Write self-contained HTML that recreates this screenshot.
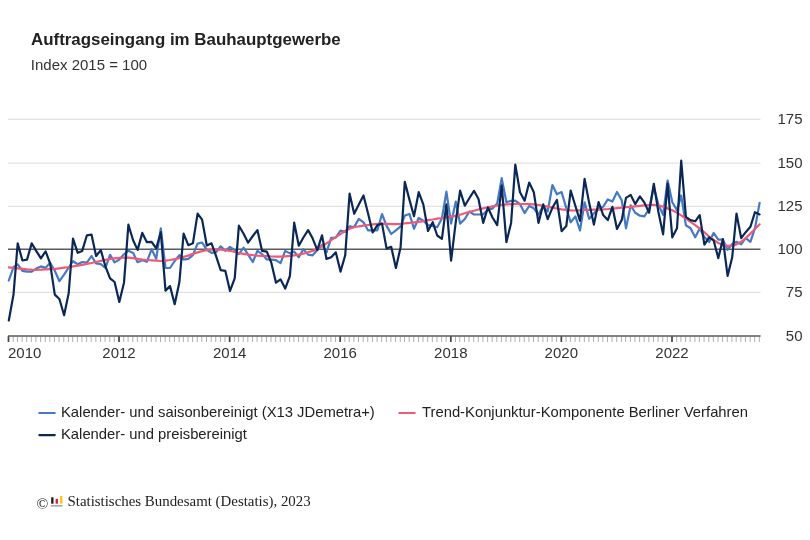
<!DOCTYPE html>
<html><head><meta charset="utf-8"><title>Auftragseingang im Bauhauptgewerbe</title>
<style>
html,body{margin:0;padding:0;background:#fff;}
body{width:810px;height:540px;overflow:hidden;position:relative;font-family:"Liberation Sans",sans-serif;}
svg{position:absolute;left:0;top:0;}
svg text{font-family:"Liberation Sans",sans-serif;}
svg{will-change:transform;transform:translateZ(0);}
.ttl{font-size:16.9px;font-weight:bold;fill:#222;}
.sub{font-size:15px;fill:#333;}
.ax text{font-size:15px;fill:#333;}
.lg text{font-size:14.8px;fill:#222;}
.ft{font-family:"Liberation Serif",serif;font-size:14.9px;fill:#222;}
</style></head><body>
<svg width="810" height="540" viewBox="0 0 810 540">
<text class="ttl" x="31" y="44.8">Auftragseingang im Bauhauptgewerbe</text>
<text class="sub" x="30.8" y="69.5">Index 2015 = 100</text>
<g fill="none">
<path d="M8 119.4 H760.5" stroke="#e2e2e2" stroke-width="1.2"/>
<path d="M8 163.2 H760.5" stroke="#e2e2e2" stroke-width="1.2"/>
<path d="M8 206.4 H760.5" stroke="#e2e2e2" stroke-width="1.2"/>
<path d="M8 292.3 H760.5" stroke="#e2e2e2" stroke-width="1.2"/>
<path d="M8 249.3 H760.5" stroke="#5a5a5a" stroke-width="1.5"/>
</g>
<g fill="none" stroke-linejoin="round" stroke-linecap="round">
<path d="M8.8 280.5 L13.5 267.2 L17.7 264.3 L22.4 270.9 L27.0 271.6 L31.7 271.6 L36.2 268.6 L40.9 266.4 L45.6 267.9 L50.1 262.7 L54.8 270.8 L59.4 281.2 L64.1 274.6 L68.7 267.5 L73.0 261.2 L77.7 264.2 L82.2 262.0 L86.9 262.7 L91.5 256.0 L96.1 263.4 L100.8 264.2 L105.4 267.9 L110.1 254.8 L114.6 262.4 L119.3 259.6 L124.0 254.3 L128.4 250.7 L133.1 252.9 L137.6 262.2 L142.3 260.3 L146.9 261.8 L151.6 249.2 L156.2 258.8 L160.8 228.4 L165.5 267.8 L170.0 268.0 L174.7 261.0 L179.4 255.1 L183.6 259.6 L188.3 258.8 L192.9 255.1 L197.6 243.6 L202.1 242.5 L206.8 249.9 L211.5 252.9 L216.0 252.2 L220.7 246.3 L225.3 250.8 L230.0 246.9 L234.7 250.1 L238.9 254.1 L243.6 247.6 L248.1 254.6 L252.8 262.0 L257.4 250.9 L262.1 254.1 L266.8 259.5 L271.3 259.7 L276.0 260.1 L280.5 263.2 L285.2 250.9 L289.9 253.4 L294.2 251.6 L298.8 257.2 L303.4 249.1 L308.1 254.6 L312.6 255.3 L317.3 250.1 L322.0 244.9 L326.5 252.3 L331.2 237.9 L335.8 237.6 L340.5 230.6 L345.2 231.8 L349.6 226.3 L354.2 227.0 L358.8 218.9 L363.5 222.4 L368.0 230.3 L372.7 230.3 L377.4 230.3 L382.0 214.0 L386.6 225.9 L391.2 234.0 L395.9 230.3 L400.6 226.3 L404.8 215.5 L409.5 214.0 L414.0 228.8 L418.7 218.0 L423.3 220.7 L428.0 225.1 L432.7 225.9 L437.2 227.3 L441.9 218.5 L446.4 191.6 L451.1 223.6 L455.8 201.6 L460.1 223.6 L464.8 219.0 L469.3 211.6 L474.0 214.5 L478.5 214.5 L483.2 214.3 L487.9 209.7 L492.5 208.6 L497.2 203.4 L501.7 178.1 L506.4 202.3 L511.1 200.8 L515.3 200.7 L520.0 204.2 L524.6 213.1 L529.2 206.0 L533.8 208.3 L538.5 214.5 L543.2 205.8 L547.7 211.6 L552.4 185.0 L556.9 194.3 L561.6 192.1 L566.3 208.3 L570.7 222.3 L575.4 216.4 L580.0 230.5 L584.6 202.3 L589.2 218.9 L593.9 213.4 L598.6 208.3 L603.1 206.8 L607.8 199.4 L612.4 201.6 L617.0 192.0 L621.7 200.1 L626.0 228.3 L630.7 205.3 L635.2 212.7 L639.9 215.7 L644.4 216.4 L649.1 209.0 L653.8 187.3 L658.4 204.6 L663.1 214.9 L667.6 180.5 L672.3 202.2 L677.0 210.1 L681.2 195.5 L685.9 225.3 L690.5 228.2 L695.2 237.3 L699.7 228.4 L704.4 237.0 L709.1 242.1 L713.6 232.9 L718.3 239.6 L722.9 239.6 L727.6 249.9 L732.2 244.0 L736.5 241.8 L741.2 244.3 L745.7 238.1 L750.4 241.8 L755.0 228.2 L759.6 202.9" stroke="#4479c4" stroke-width="2.2"/>
<path d="M8.8 267.4 L13.5 267.9 L17.7 268.3 L22.4 268.9 L27.0 269.4 L31.7 269.7 L36.2 269.8 L40.9 269.7 L45.6 269.4 L50.1 269.1 L54.8 268.8 L59.4 268.3 L64.1 267.7 L68.7 267.2 L73.0 266.4 L77.7 265.7 L82.2 264.8 L86.9 263.9 L91.5 263.0 L96.1 262.0 L100.8 260.9 L105.4 259.9 L110.1 258.9 L114.6 258.3 L119.3 257.9 L124.0 257.5 L128.4 257.6 L133.1 258.1 L137.6 258.8 L142.3 259.6 L146.9 260.0 L151.6 260.4 L156.2 260.7 L160.8 261.0 L165.5 260.7 L170.0 260.0 L174.7 259.1 L179.4 258.1 L183.6 256.9 L188.3 255.6 L192.9 253.9 L197.6 252.4 L202.1 251.1 L206.8 250.2 L211.5 249.6 L216.0 249.3 L220.7 249.6 L225.3 250.1 L230.0 250.8 L234.7 252.0 L238.9 253.1 L243.6 253.8 L248.1 254.6 L252.8 255.2 L257.4 255.6 L262.1 255.9 L266.8 256.2 L271.3 256.5 L276.0 256.6 L280.5 256.6 L285.2 256.3 L289.9 255.9 L294.2 255.3 L298.8 254.6 L303.4 253.7 L308.1 252.3 L312.6 250.9 L317.3 248.8 L322.0 246.1 L326.5 243.4 L331.2 240.1 L335.8 237.1 L340.5 234.1 L345.2 231.0 L349.6 228.8 L354.2 227.3 L358.8 226.3 L363.5 225.6 L368.0 225.0 L372.7 224.4 L377.4 223.9 L382.0 223.6 L386.6 223.8 L391.2 224.1 L395.9 224.2 L400.6 223.9 L404.8 223.3 L409.5 222.9 L414.0 222.4 L418.7 221.9 L423.3 221.1 L428.0 220.2 L432.7 219.5 L437.2 218.7 L441.9 218.0 L446.4 217.4 L451.1 216.7 L455.8 215.9 L460.1 214.7 L464.8 213.3 L469.3 211.9 L474.0 210.7 L478.5 209.5 L483.2 208.4 L487.9 207.3 L492.5 206.4 L497.2 205.5 L501.7 204.9 L506.4 204.4 L511.1 204.2 L515.3 204.0 L520.0 204.0 L524.6 204.0 L529.2 204.2 L533.8 204.4 L538.5 205.0 L543.2 205.8 L547.7 206.7 L552.4 207.7 L556.9 208.5 L561.6 209.3 L566.3 209.9 L570.7 210.3 L575.4 210.5 L580.0 210.3 L584.6 210.0 L589.2 209.9 L593.9 209.7 L598.6 209.6 L603.1 209.3 L607.8 209.0 L612.4 208.6 L617.0 208.1 L621.7 207.7 L626.0 207.2 L630.7 206.8 L635.2 206.3 L639.9 205.9 L644.4 205.4 L649.1 205.0 L653.8 204.9 L658.4 205.4 L663.1 206.8 L667.6 208.4 L672.3 210.2 L677.0 212.7 L681.2 215.4 L685.9 218.6 L690.5 221.8 L695.2 225.1 L699.7 228.5 L704.4 232.3 L709.1 236.6 L713.6 240.0 L718.3 243.0 L722.9 244.7 L727.6 245.9 L732.2 245.8 L736.5 244.4 L741.2 241.8 L745.7 238.1 L750.4 233.6 L755.0 228.9 L759.6 224.3" stroke="#ef5b77" stroke-width="2.2"/>
<path d="M8.8 320.5 L13.5 294.6 L17.7 243.4 L22.4 260.5 L27.0 259.7 L31.7 243.4 L36.2 250.9 L40.9 258.3 L45.6 251.3 L50.1 263.3 L54.8 294.6 L59.4 299.0 L64.1 315.3 L68.7 293.1 L73.0 238.7 L77.7 252.8 L82.2 250.9 L86.9 235.3 L91.5 234.6 L96.1 256.0 L100.8 250.1 L105.4 266.3 L110.1 278.3 L114.6 282.0 L119.3 302.0 L124.0 282.7 L128.4 224.7 L133.1 240.3 L137.6 249.9 L142.3 232.9 L146.9 242.2 L151.6 241.8 L156.2 248.4 L160.8 232.2 L165.5 290.6 L170.0 286.1 L174.7 304.2 L179.4 282.0 L183.6 233.6 L188.3 245.2 L192.9 243.3 L197.6 213.6 L202.1 219.6 L206.8 245.5 L211.5 243.3 L216.0 255.9 L220.7 270.1 L225.3 270.8 L230.0 290.9 L234.7 278.3 L238.9 225.7 L243.6 233.8 L248.1 242.7 L252.8 236.0 L257.4 230.1 L262.1 250.9 L266.8 251.6 L271.3 262.7 L276.0 282.7 L280.5 279.3 L285.2 288.6 L289.9 276.0 L294.2 222.7 L298.8 245.7 L303.4 237.5 L308.1 230.1 L312.6 238.3 L317.3 250.1 L322.0 235.3 L326.5 259.0 L331.2 257.3 L335.8 252.3 L340.5 271.6 L345.2 255.3 L349.6 193.7 L354.2 213.7 L358.8 204.4 L363.5 195.5 L368.0 213.3 L372.7 232.5 L377.4 225.1 L382.0 223.6 L386.6 248.6 L391.2 246.8 L395.9 267.9 L400.6 247.2 L404.8 181.9 L409.5 199.9 L414.0 216.2 L418.7 192.2 L423.3 204.4 L428.0 231.0 L432.7 222.2 L437.2 235.5 L441.9 238.8 L446.4 204.3 L451.1 260.7 L455.8 221.6 L460.1 190.7 L464.8 205.7 L469.3 198.3 L474.0 190.8 L478.5 199.0 L483.2 222.9 L487.9 207.5 L492.5 217.5 L497.2 225.1 L501.7 185.5 L506.4 242.2 L511.1 222.9 L515.3 164.7 L520.0 192.2 L524.6 200.7 L529.2 182.5 L533.8 192.2 L538.5 222.9 L543.2 204.3 L547.7 219.2 L552.4 207.8 L556.9 200.0 L561.6 231.2 L566.3 226.0 L570.7 190.5 L575.4 206.0 L580.0 220.9 L584.6 178.9 L589.2 203.1 L593.9 224.6 L598.6 202.0 L603.1 214.9 L607.8 220.1 L612.4 206.8 L617.0 229.0 L621.7 220.1 L626.0 197.9 L630.7 194.9 L635.2 204.1 L639.9 196.4 L644.4 202.6 L649.1 212.7 L653.8 183.8 L658.4 212.0 L663.1 234.3 L667.6 183.6 L672.3 237.3 L677.0 228.3 L681.2 160.7 L685.9 216.8 L690.5 220.1 L695.2 221.3 L699.7 215.1 L704.4 244.7 L709.1 237.3 L713.6 240.3 L718.3 258.1 L722.9 239.1 L727.6 275.9 L732.2 257.3 L736.5 213.5 L741.2 238.1 L745.7 232.2 L750.4 226.8 L755.0 212.2 L759.6 214.4" stroke="#0a2756" stroke-width="2.2"/>
</g>
<g fill="none">
<path d="M13.19 336.5V342M17.43 336.5V342M22.12 336.5V342M26.67 336.5V342M31.36 336.5V342M35.90 336.5V342M40.59 336.5V342M45.29 336.5V342M49.83 336.5V342M54.52 336.5V342M59.06 336.5V342M63.75 336.5V342M68.45 336.5V342M72.69 336.5V342M77.38 336.5V342M81.92 336.5V342M86.61 336.5V342M91.15 336.5V342M95.85 336.5V342M100.54 336.5V342M105.08 336.5V342M109.77 336.5V342M114.31 336.5V342M123.70 336.5V342M128.09 336.5V342M132.78 336.5V342M137.32 336.5V342M142.02 336.5V342M146.56 336.5V342M151.25 336.5V342M155.94 336.5V342M160.49 336.5V342M165.18 336.5V342M169.72 336.5V342M174.41 336.5V342M179.11 336.5V342M183.34 336.5V342M188.04 336.5V342M192.58 336.5V342M197.27 336.5V342M201.81 336.5V342M206.51 336.5V342M211.20 336.5V342M215.74 336.5V342M220.43 336.5V342M224.97 336.5V342M234.36 336.5V342M238.60 336.5V342M243.29 336.5V342M247.83 336.5V342M252.52 336.5V342M257.07 336.5V342M261.76 336.5V342M266.45 336.5V342M270.99 336.5V342M275.69 336.5V342M280.23 336.5V342M284.92 336.5V342M289.61 336.5V342M293.85 336.5V342M298.54 336.5V342M303.09 336.5V342M307.78 336.5V342M312.32 336.5V342M317.01 336.5V342M321.71 336.5V342M326.25 336.5V342M330.94 336.5V342M335.48 336.5V342M344.87 336.5V342M349.26 336.5V342M353.95 336.5V342M358.49 336.5V342M363.18 336.5V342M367.72 336.5V342M372.42 336.5V342M377.11 336.5V342M381.65 336.5V342M386.34 336.5V342M390.89 336.5V342M395.58 336.5V342M400.27 336.5V342M404.51 336.5V342M409.20 336.5V342M413.74 336.5V342M418.44 336.5V342M422.98 336.5V342M427.67 336.5V342M432.36 336.5V342M436.91 336.5V342M441.60 336.5V342M446.14 336.5V342M455.53 336.5V342M459.76 336.5V342M464.46 336.5V342M469.00 336.5V342M473.69 336.5V342M478.23 336.5V342M482.92 336.5V342M487.62 336.5V342M492.16 336.5V342M496.85 336.5V342M501.39 336.5V342M506.09 336.5V342M510.78 336.5V342M515.02 336.5V342M519.71 336.5V342M524.25 336.5V342M528.94 336.5V342M533.49 336.5V342M538.18 336.5V342M542.87 336.5V342M547.41 336.5V342M552.11 336.5V342M556.65 336.5V342M566.03 336.5V342M570.42 336.5V342M575.12 336.5V342M579.66 336.5V342M584.35 336.5V342M588.89 336.5V342M593.58 336.5V342M598.28 336.5V342M602.82 336.5V342M607.51 336.5V342M612.05 336.5V342M616.74 336.5V342M621.44 336.5V342M625.68 336.5V342M630.37 336.5V342M634.91 336.5V342M639.60 336.5V342M644.14 336.5V342M648.84 336.5V342M653.53 336.5V342M658.07 336.5V342M662.76 336.5V342M667.31 336.5V342M676.69 336.5V342M680.93 336.5V342M685.62 336.5V342M690.16 336.5V342M694.86 336.5V342M699.40 336.5V342M704.09 336.5V342M708.78 336.5V342M713.33 336.5V342M718.02 336.5V342M722.56 336.5V342M727.25 336.5V342M731.95 336.5V342M736.18 336.5V342M740.88 336.5V342M745.42 336.5V342M750.11 336.5V342M754.65 336.5V342M759.34 336.5V342" stroke="#b0b0b0" stroke-width="1"/>
<path d="M8.50 336V342M119.01 336V342M229.67 336V342M340.17 336V342M450.83 336V342M561.34 336V342M672.00 336V342" stroke="#444444" stroke-width="1.7"/>
<path d="M8 336H760.6" stroke="#5a5a5a" stroke-width="1.5"/>
</g>
<g class="ax">
<text x="8" y="358" text-anchor="start">2010</text>
<text x="119.0" y="358" text-anchor="middle">2012</text>
<text x="229.7" y="358" text-anchor="middle">2014</text>
<text x="340.2" y="358" text-anchor="middle">2016</text>
<text x="450.8" y="358" text-anchor="middle">2018</text>
<text x="561.3" y="358" text-anchor="middle">2020</text>
<text x="672.0" y="358" text-anchor="middle">2022</text>
<text x="802.5" y="124.2" text-anchor="end">175</text>
<text x="802.5" y="168.2" text-anchor="end">150</text>
<text x="802.5" y="211.2" text-anchor="end">125</text>
<text x="802.5" y="254.2" text-anchor="end">100</text>
<text x="802.5" y="297.2" text-anchor="end">75</text>
<text x="802.5" y="340.7" text-anchor="end">50</text>
</g>
<g class="lg">
<path d="M39.3 412.9H54.8" stroke="#4479c4" stroke-width="2.05" stroke-linecap="round" fill="none"/>
<text x="61" y="417.2">Kalender- und saisonbereinigt (X13 JDemetra+)</text>
<path d="M399.3 412.9H414.8" stroke="#ef5b77" stroke-width="2.05" stroke-linecap="round" fill="none"/>
<text x="422" y="417.2">Trend-Konjunktur-Komponente Berliner Verfahren</text>
<path d="M39.3 435.1H54.8" stroke="#0a2756" stroke-width="2.05" stroke-linecap="round" fill="none"/>
<text x="61" y="439.3">Kalender- und preisbereinigt</text>
</g>
<g>
<text class="ft" x="36.5" y="508.6" style="font-size:15.5px">©</text>
<rect x="51.2" y="497.3" width="2.3" height="6.4" fill="#1a1a1a"/>
<rect x="55.6" y="498.9" width="2.4" height="4.8" fill="#d9213b"/>
<rect x="60.1" y="495.9" width="2.3" height="7.8" fill="#fbc313"/>
<rect x="51" y="505" width="11.6" height="1.6" fill="#a9a9a9"/>
<text class="ft" x="67.5" y="505.5">Statistisches Bundesamt (Destatis), 2023</text>
</g>
</svg>
</body></html>
